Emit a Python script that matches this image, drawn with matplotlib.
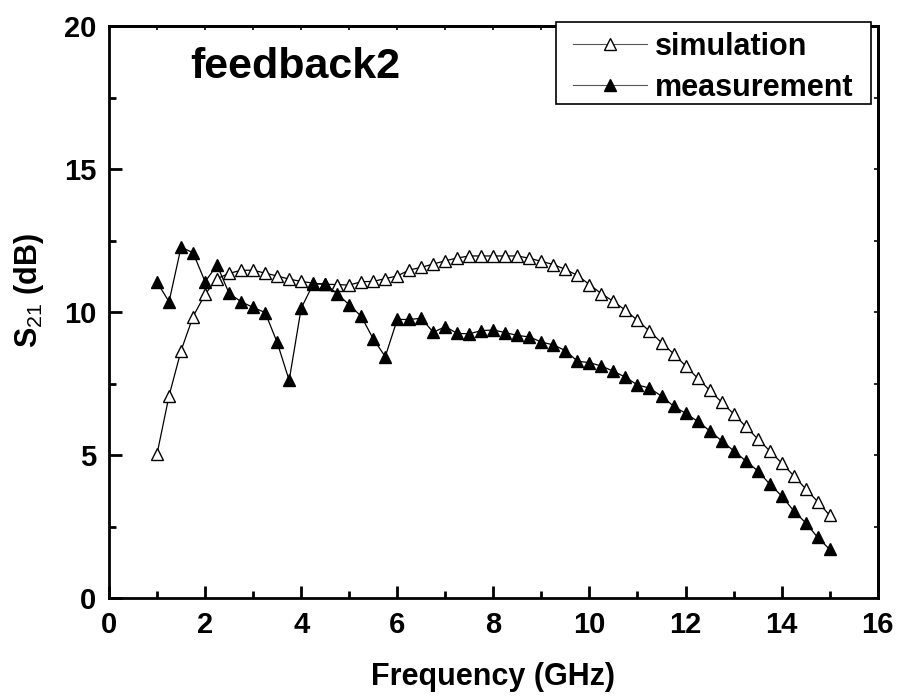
import matplotlib
matplotlib.use("Agg")
import matplotlib.pyplot as plt
from matplotlib.ticker import MultipleLocator
from matplotlib.patches import Rectangle

plt.rcParams['font.family'] = ['Liberation Sans', 'DejaVu Sans']
plt.rcParams['mathtext.fontset'] = 'custom'
plt.rcParams['mathtext.rm'] = 'Liberation Sans'
plt.rcParams['mathtext.bf'] = 'Liberation Sans:bold'

freq = [1.0, 1.25, 1.5, 1.75, 2.0, 2.25, 2.5, 2.75, 3.0, 3.25, 3.5, 3.75,
        4.0, 4.25, 4.5, 4.75, 5.0, 5.25, 5.5, 5.75, 6.0, 6.25, 6.5, 6.75,
        7.0, 7.25, 7.5, 7.75, 8.0, 8.25, 8.5, 8.75, 9.0, 9.25, 9.5, 9.75,
        10.0, 10.25, 10.5, 10.75, 11.0, 11.25, 11.5, 11.75, 12.0, 12.25,
        12.5, 12.75, 13.0, 13.25, 13.5, 13.75, 14.0, 14.25, 14.5, 14.75, 15.0]

simulation = [5.05, 7.08, 8.66, 9.85, 10.63, 11.18, 11.36, 11.47, 11.47, 11.37,
              11.27, 11.16, 11.08, 11.02, 10.98, 10.97, 10.95, 11.07, 11.08,
              11.18, 11.27, 11.48, 11.57, 11.69, 11.80, 11.90, 11.97, 11.97,
              11.97, 11.97, 11.97, 11.89, 11.78, 11.67, 11.50, 11.29, 10.97,
              10.65, 10.38, 10.07, 9.72, 9.34, 8.94, 8.55, 8.13, 7.70, 7.28,
              6.86, 6.45, 6.01, 5.58, 5.16, 4.73, 4.29, 3.83, 3.38, 2.90]

measurement = [11.05, 10.37, 12.28, 12.08, 11.07, 11.65, 10.66, 10.37, 10.17,
               9.99, 8.95, 7.62, 10.14, 10.99, 10.99, 10.65, 10.26, 9.86, 9.07,
               8.45, 9.75, 9.75, 9.79, 9.30, 9.50, 9.26, 9.25, 9.36, 9.38, 9.29,
               9.19, 9.14, 8.96, 8.86, 8.66, 8.29, 8.24, 8.12, 7.94, 7.73, 7.46,
               7.35, 7.07, 6.72, 6.47, 6.19, 5.86, 5.51, 5.16, 4.81, 4.46, 4.00,
               3.58, 3.06, 2.64, 2.13, 1.71]

x_ticks = [0, 2, 4, 6, 8, 10, 12, 14, 16]
y_ticks = [0, 5, 10, 15, 20]

W, H = 901, 699
fig = plt.figure(figsize=(W / 100, H / 100), dpi=100)
ax = fig.add_axes([109 / W, 1 - 598.3 / H, (877.7 - 109) / W, (598.3 - 26.3) / H])

ax.plot(freq, simulation, color='black', lw=0.9, marker='^', ms=9,
        mfc='white', mec='black', mew=1.0, label='simulation')
ax.plot(freq, measurement, color='black', lw=0.9, marker='^', ms=9,
        mfc='black', mec='black', mew=1.0, label='measurement')

ax.set_xlim(0, 16)
ax.set_ylim(0, 20)
ax.set_xticks(x_ticks)
ax.set_yticks(y_ticks)
ax.xaxis.set_minor_locator(MultipleLocator(1))
ax.yaxis.set_minor_locator(MultipleLocator(2.5))

for s in ax.spines.values():
    s.set_linewidth(2.0)

ax.tick_params(which='major', direction='in', length=9, width=2, pad=9,
               labelsize=21, bottom=True, left=True, top=False, right=False)
ax.tick_params(which='minor', direction='in', length=5, width=2,
               bottom=True, left=True, top=False, right=False)
for lab in ax.get_xticklabels() + ax.get_yticklabels():
    lab.set_fontweight('bold')

# small inward ticks on the top and right edges
ax_t = ax.secondary_xaxis('top')
ax_t.set_xticks(x_ticks)
ax_t.xaxis.set_minor_locator(MultipleLocator(1))
ax_t.tick_params(which='both', direction='in', length=3, width=1.2, labeltop=False)
ax_t.spines['top'].set_linewidth(2.0)
ax_r = ax.secondary_yaxis('right')
ax_r.set_yticks(y_ticks)
ax_r.yaxis.set_minor_locator(MultipleLocator(2.5))
ax_r.tick_params(which='both', direction='in', length=3, width=1.2, labelright=False)
ax_r.spines['right'].set_linewidth(2.0)

ax.set_xlabel('Frequency (GHz)', fontsize=22, fontweight='bold', labelpad=17)
fig.text(29 / W, 1 - 290 / H, r'$\mathbf{S}_{\mathrm{21}}$ (dB)', rotation=90,
         ha='center', va='center', fontsize=22, fontweight='bold')

fig.text(190 / W, 1 - 78 / H, 'feedback2', fontsize=31, fontweight='bold',
         ha='left', va='baseline')

# legend frame
frame = Rectangle((556 / W, 1 - 104 / H), 315 / W, 82 / H,
                  transform=fig.transFigure, facecolor='white',
                  edgecolor='black', lw=1.2, zorder=5)
fig.patches.append(frame)

leg = fig.legend(loc='upper left', bbox_to_anchor=(573 / W, 1 - 32 / H),
                 borderaxespad=0, frameon=False,
                 prop={'size': 22, 'weight': 'bold'}, handlelength=2.42,
                 handletextpad=0.26, borderpad=0.0, labelspacing=0.36)
leg.set_zorder(6)
for h in leg.legend_handles:
    h.set_linewidth(0.8)
    h.set_color('#555555')
    h.set_markeredgecolor('black')

fig.savefig('out.png', dpi=100)
